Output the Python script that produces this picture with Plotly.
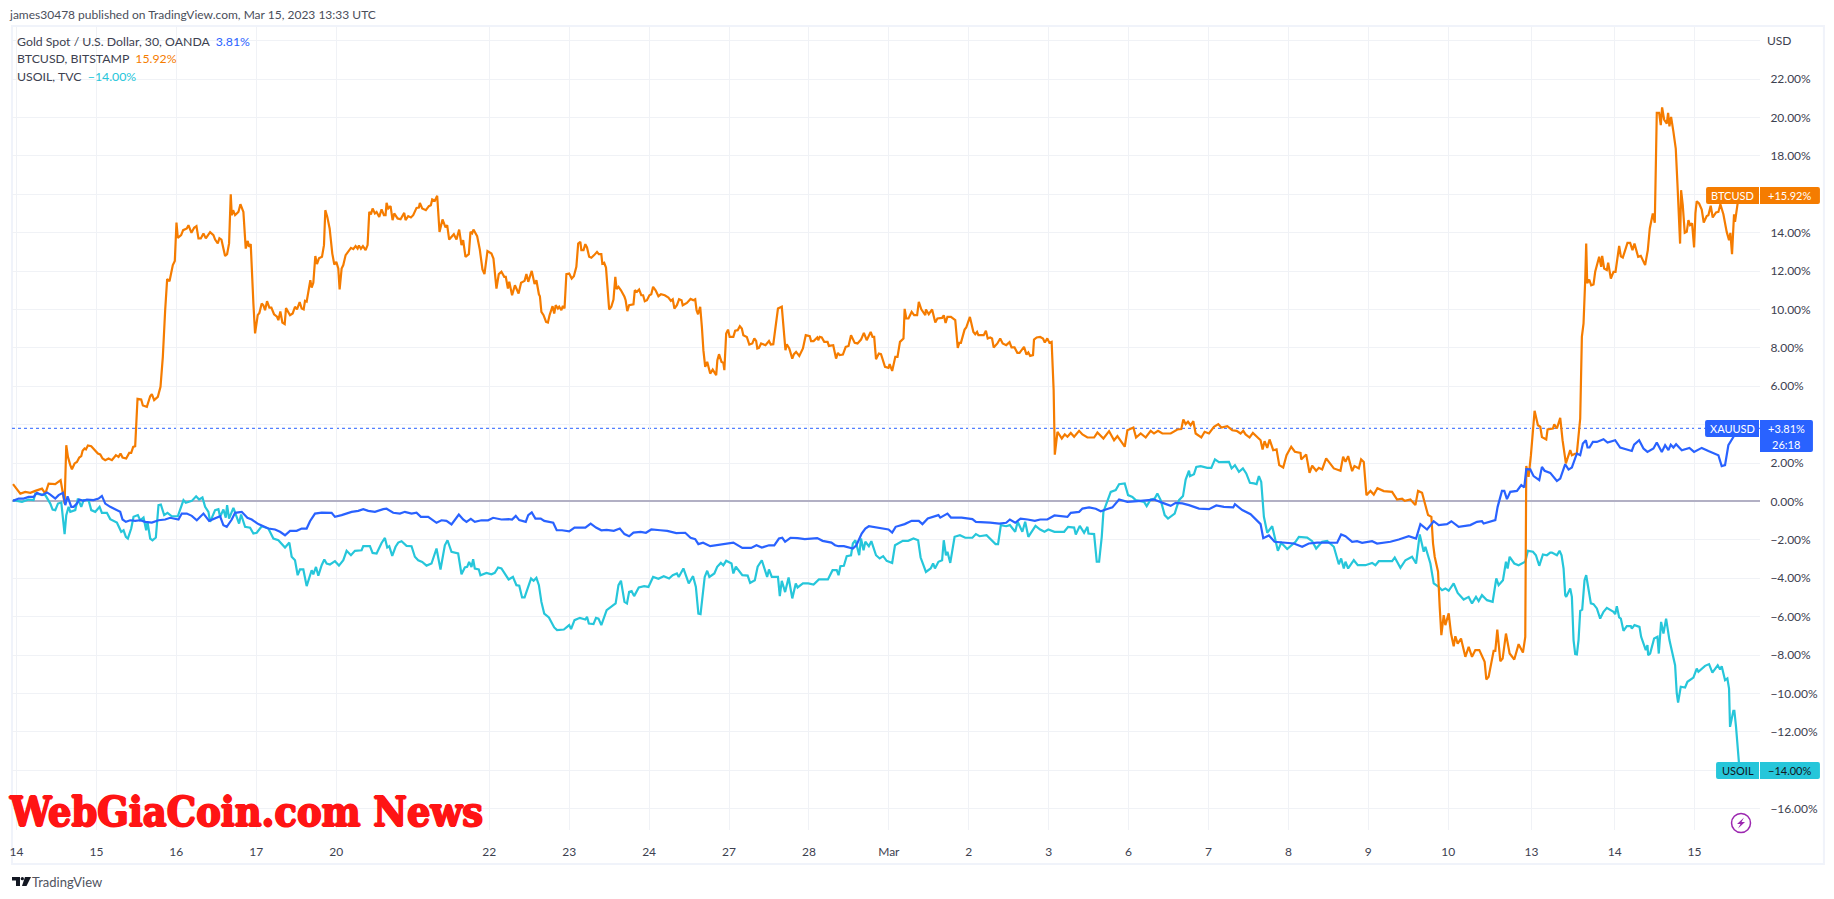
import plotly.graph_objects as go

# x = 30-minute bars since the Feb 14 session mark, y = % change
tick_bars = [0,48,96,144,192,284,332,380,428,476,524,572,620,668,716,764,812,860,910,960,1008]
tick_names = ["14","15","16","17","20","22","23","24","27","28","Mar","2","3","6","7","8","9","10","13","14","15"]
pct_ticks = list(range(-16, 25, 2))
hidden_pct_labels = [24, 16, 4, -14]

btc_feb_a = [(-2.1,.90),(-.7,.73),(2.3,.41),(5.3,.50),(8.3,.45),(11.3,.55),(15.3,.67),(17.3,.41),(19.3,.93),(23.3,.90),(26.5,1.11),(27.9,.41),(28.9,-.11),
(29.9,2.93),(30.9,2.32),(32.3,1.89),(33.3,1.68),(34.9,1.98),(36.3,2.06),(37.7,2.29),(38.9,2.36),(39.7,2.64),(40.9,2.76),(41.7,2.71),(42.9,2.92),(44.9,2.88),(47.3,2.67),(48.9,2.50),(50.3,2.45),(51.7,2.24),(53.3,2.15),(55.3,2.24),(57.3,2.15),(59.7,2.41),(61.3,2.32),(62.5,2.50),(63.7,2.29),(65.9,2.24),(67.7,2.53),(68.9,2.53),(70.1,2.84),(71.3,2.88),(72.7,5.35),(74.9,5.31),(75.9,5.00),(78.3,4.93),(80.3,5.48),(81.3,5.59),(82.7,5.28),(84.9,5.45),(86.5,5.97),(87.9,7.53),(89.3,9.96),(90.5,11.58),(91.9,11.47),(93.9,12.31),(95.1,12.53),(96.1,14.53),(96.9,13.73),(98.9,13.87),(100.1,14.13),(102.3,14.22),(103.3,14.39),(105.1,13.99),(106.7,14.25),(108.1,14.34),(109.3,13.70),(110.7,13.70),(112.3,13.96),(113.7,13.70),(116.3,14.03),(118.3,13.87),(119.3,13.64),(120.9,13.44),(121.9,13.71),(123.1,13.64),(125.3,12.78),(126.5,12.88),(127.7,13.44),(128.7,16.00),(129.3,14.91),(130.1,15.17),(131.3,14.91),(133.3,15.08),(134.5,15.48),(136.3,15.08),(137.7,13.17),(138.9,13.57),(139.7,13.26),(140.7,13.40),(142.3,10.31),(143.3,8.75),(144.9,9.70),(145.9,9.82),(147.3,10.31),(148.3,10.22),(149.3,9.96),(150.5,10.43),(151.9,10.10),(153.1,10.10),(154.7,9.75),(156.5,9.62),(157.3,9.44),(158.5,9.89),(159.7,9.32),(161.1,9.24),(161.9,10.07),(163.3,9.82),(164.3,9.70),(165.9,9.79),(167.3,10.14),(168.5,10.00),(170.1,10.38),(171.3,10.05),(172.5,10.00),(173.3,10.45),(174.3,10.41),(176.5,11.52),(177.3,11.14),(178.3,11.39),(179.5,12.78),(180.5,12.36),(181.7,12.66),(183.5,12.74),(184.7,13.35),(185.5,15.17),(186.7,14.82),(188.1,14.22),(189.7,12.91),(190.9,12.34),(192.1,12.48),(193.3,12.13),(194.1,11.04),(195.3,12.13),(196.3,12.31),(197.7,12.83),(199.3,13.00),(200.9,13.21),(202.3,13.14),(203.7,13.30),(204.9,13.17),(205.7,13.33),(206.9,13.16),(208.1,13.30),(209.7,13.09),(210.9,13.35),(211.9,15.08),(212.9,14.95),(213.9,15.26),(215.3,15.00),(216.3,15.08),(217.9,14.82),(219.3,15.21),(220.7,14.91),(221.7,14.91),(222.3,15.55),(223.3,15.26),(224.7,15.38),(225.9,14.65),(226.9,15.00),(228.9,14.74),(230.7,14.70),(232.9,15.03),(233.7,14.65),(235.3,14.86),(236.9,14.79),(238.3,14.91),(240.3,15.29),(241.7,15.31),(242.3,15.55),(243.7,15.26),(245.9,15.17),(247.7,15.38),(248.9,15.43),(249.7,15.73),(251.3,15.66),(252.7,15.92),(254.1,14.04),(255.9,14.69),(257.7,14.27),(258.7,14.39),(259.9,13.64),(262.7,13.92),(264.3,13.64),(265.9,14.16),(267.3,13.35),(268.3,13.61),(269.7,12.74),(271.7,12.88),(272.7,14.04),(273.7,13.96),(274.5,14.16),(276.7,13.82),(278.3,13.12),(279.9,12.08),(281.1,11.84),(282.9,13.04),(285.3,12.91),(286.5,12.65),(288.3,11.09),(289.7,11.84)]
btc_feb_b = [(291.3,11.96),(293,11.70),(293.9,11.70),(295.2,11.09),(296,11.44),(297.7,10.74),(299.4,11.26),(301.6,10.83),(303.1,11.39),(305.2,11.49),(306.3,11.84),(307.4,11.44),(309.5,12.01),(311.2,11.32),(312.3,11.52),(313.8,10.79),(314.4,10.69),(315.3,9.87),(316.6,9.70),(318.1,9.35),(319.2,9.32),(320.2,9.70),(322,10.17),(323,9.79),(323.9,10.22),(325.2,10.05),(326,10.14),(327.3,9.96),(328.2,10.19),(329.2,10.05),(330.3,11.84),(332,11.87),(333.5,11.61),(334.8,11.73),(336.3,12.22),(337.4,13.43),(338.7,13.52),(339.3,13.09),(340.6,13.09),(341.7,13.40),(342.7,13.23),(344,12.74),(345.3,12.69),(347,12.83),(348.7,13.00),(349.8,12.88),(351.3,12.88),(351.9,12.39),(353,12.43),(354.1,12.18),(356,10.00),(357.3,10.14),(358.6,10.52),(359.7,11.70),(360.5,11.06),(361.6,11.18),(363.1,11.00),(365.2,10.66),(365.9,10.48),(366.9,9.91),(368,10.22),(370.6,10.27),(371.4,11.00),(372.7,10.92),(374,11.04),(375.3,10.74),(376.4,10.74),(377.4,10.43),(378.7,10.48),(380.2,10.74),(381.3,10.79),(382.4,11.18),(383.9,11.00),(385.6,10.69),(387.1,10.79),(389.4,10.74),(391.6,10.62),(393.1,10.45),(394.2,10.53),(395.2,10.05),(396.7,10.22),(398,10.53),(399.5,10.48),(400.2,10.22),(402.7,10.34),(404.9,10.55),(406.6,10.48),(407.7,10.53),(408.5,9.96),(409.4,9.75),(410.7,10.14),(411.7,9.09),(412.6,7.88),(413.7,7.01),(414.9,7.27),(416.7,6.66),(418.2,6.87),(420.3,6.58),(421,7.36),(422,7.67),(423.5,7.27),(424.6,7.22),(425.2,6.84),(426.3,8.75),(427.4,8.95),(428.4,8.57),(430.6,8.57),(431.7,8.89),(433.2,8.92),(434.5,9.13),(435.7,9.01),(436.6,8.66),(438.7,8.57),(440.2,8.17),(442,8.23),(443.2,8.49),(444.3,8.36),(445,7.97),(446,8.00),(447.3,8.23),(449.9,8.14),(452,8.36),(453.1,8.17),(454.6,8.19),(457.4,10.05),(459.7,10.14),(461.9,7.88),(462.7,8.19),(464.2,7.97),(466,7.44),(467,7.67),(468.3,7.79),(470.2,7.58),(472.4,7.97),(474.1,8.66),(476.5,8.61),(477.3,8.35),(478.8,8.35),(481,8.54),(481.6,8.40),(482.5,8.57),(483.7,8.54),(485.2,8.31),(487.2,8.31),(488,8.10),(490.6,8.14),(492.3,7.44),(493.4,7.74),(494.5,7.62),(496.4,7.65),(498.1,8.05),(499.8,8.10),(501.3,8.66),(503.5,8.26),(505.2,8.23),(507.3,8.43),(509,8.78),(510.7,8.40),(513.1,8.83),(514.2,8.57),(515.2,8.57),(516.3,7.41),(518,7.70),(519.3,7.67),(521.7,7.01),(523.8,6.96),(524.5,7.15),(526,6.80),(527.9,7.53),(529.2,7.53),(530.7,8.31),(532.8,8.49),(533.5,10.03),(534.5,9.53),(535.8,9.53),(537.7,9.87),(539.2,9.70),(541,9.70),(542,10.40),(543.5,10.01),(545.9,9.70),(546.3,10.00),(548,9.75),(550,10.00),(551.9,9.32),(553.2,9.53),(556,9.56),(557,9.70),(558.1,9.30),(559.2,9.61),(561.3,9.61),(563.9,9.44),(565.4,8.00),(566.3,8.26),(567.3,8.26),(569.5,8.95),(570.5,9.06),(572.7,9.61),(574.8,8.83),(575.9,8.71),(577,8.83),(577.8,8.66),(581,8.66),(582.3,8.89),(583.4,8.49),(584.9,8.54),(586,8.49),(587,8.02),(589.2,8.23),(590.9,8.49),(592.4,8.23),(594.5,8.14),(596.5,8.30),(597.7,8.02),(599.5,8.02),(601.2,7.74),(602.5,7.74),(605.2,8.05),(606.7,7.65),(607.8,7.76),(608.9,7.58),(610.6,7.62),(611.2,8.43),(612.8,8.54),(614.9,8.57),(616.6,8.49),(617.7,8.28),(619.2,8.49),(620.5,8.26),(621.8,8.31),(623,5.80),(623.7,2.44)]
btc_mar = [(625.3,3.63),(627.9,3.28),(629.7,3.49),(631.3,3.37),(633.3,3.57),(635.3,3.37),(638.3,3.68),(640.3,3.49),(643.3,3.33),(647.3,3.33),(649.3,3.59),(652.9,3.28),(656.3,3.66),(659.3,3.19),(661.3,3.40),(665.7,2.85),(667.3,3.71),(670.9,3.85),(672.5,3.33),(675.3,3.54),(678.3,3.33),(681.3,3.68),(683.3,3.54),(685.7,3.68),(688.3,3.54),(693.3,3.54),(697.3,3.75),(699.7,3.77),(700.9,4.27),(702.3,4.03),(703.7,4.15),(705.3,3.97),(706.9,4.18),(708.3,3.54),(711.7,3.33),(713.7,3.63),(716.3,3.54),(719.3,3.89),(721.9,4.03),(723.7,3.85),(727.3,3.92),(730.3,3.71),(732.9,3.68),(735.3,3.54),(736.9,3.68),(738.3,3.49),(740.7,3.33),(742.7,3.57),(747.3,3.19),(748.5,2.71),(749.7,3.14),(751.3,2.79),(752.7,3.23),(754.9,2.67),(756.9,2.71),(758.5,1.89),(760.9,1.77),(762.9,2.41),(765.7,2.85),(767.9,2.59),(771.3,2.53),(771.7,2.19),(774.7,2.45),(776.7,1.49),(778.3,1.86),(780.7,1.60),(782.3,1.75),(784.3,1.67),(786.7,2.24),(791.3,1.72),(795.3,1.60),(796.9,2.33),(798.3,2.06),(799.9,2.36),(802.3,1.58),(803.7,1.84),(806.3,1.72),(807.7,2.19),(809.3,2.06),(810.9,.33),(813.3,.55),(815.3,.36),(817.5,.69),(821.3,.54),(826.3,.50),(829.3,.10),(832.3,.14),(833.9,.03),(837.3,.10),(840.3,-.19),(841.9,.55),(844.3,.45),(847.9,-.71),(849.9,-.80),(850.9,-2.19),(851.9,-2.88),(853.9,-3.66),(854.9,-5.49),(855.9,-6.96),(857.3,-5.92),(858.3,-6.44),(860.3,-5.83),(861.7,-6.88),(863.3,-7.54),(864.3,-7.02),(865.7,-7.40),(867.7,-7.14),(870.3,-8.09),(872.3,-7.57),(874.3,-8.09),(876.3,-7.74),(878.7,-7.74),(881.9,-8.35),(882.9,-9.27),(884.3,-9.13),(887.3,-7.78),(888.3,-7.78),(889.5,-6.67),(891.3,-8.32),(892.7,-8.18),(894.7,-6.88),(896.9,-7.92),(899.7,-8.23),(902.3,-7.43),(904.9,-7.87),(906.3,-7.05),(906.7,-3.40),
(906.9,1.85),(908.3,1.28),(909.7,2.41),(911.9,4.72),(913.9,3.97),(915.3,3.89),(916.3,3.36),(918.9,3.23),(919.7,3.75),(922.9,3.80),(923.7,4.01),(925.3,3.80),(927.3,4.35),(928.7,3.19),(930.7,1.98),(933.3,2.67),(934.3,2.41),(937.3,2.53),(939.3,4.32),(940.3,8.57),(941.3,9.27),(942.3,11.52),(942.9,13.43),(943.5,11.37),(944.7,11.56),(945.9,11.26),(947.3,11.30),(948.3,11.96),(950.7,12.74),(951.9,12.22),(952.5,12.79),(953.7,12.13),(955.3,12.05),(956.1,12.43),(957.7,11.61),(959.3,11.96),(960.5,11.96),(962.7,13.31),(963.7,12.77),(964.9,12.70),(967.7,13.47),(969.3,13.47),(970.7,13.09),(971.9,13.43),(974.1,12.74),(975.7,12.79),(978.3,12.31),(979.9,13.09),(981.1,14.22),(982.9,15.00),(984.1,14.51),(984.9,18.30),(985.3,20.24),(986.7,20.24),(987.7,19.60),(988.5,20.52),(989.7,19.89),(991.3,19.68),(992.1,20.24),(992.9,19.54),(993.9,20.03),(995.3,19.25),(996.7,18.38),(997.7,16.56),(998.5,14.82),(999.3,13.43),(999.9,16.21),(1000.9,15.43),(1002.1,13.99),(1003.3,14.04),(1004.3,14.65),(1005.3,14.39),(1006.5,14.48),(1007.7,13.23),(1008.5,15.00),(1009.3,15.64),(1010.7,15.52),(1012.3,15.20),(1013.5,14.53),(1015.3,14.86),(1016.3,14.91),(1017.7,15.40),(1018.9,14.79),(1020.9,15.05),(1022.3,15.08),(1023.5,15.48),(1025.3,14.96),(1027.3,14.04),(1028.7,13.61),(1029.5,13.99),(1030.5,12.88),(1031.7,14.96),(1032.3,14.56),(1033.9,15.43),(1034.5,15.92)]

gold_feb_a = [(-2.1,.03),(1.3,.15),(4.3,.15),(7.3,.24),(10.3,.24),(12.3,.45),(15.3,.33),(18.3,.47),(20.3,.36),(23.3,.15),(25.3,.33),(27.9,.45),(29.3,-.19),(30.7,.27),(32.9,-.28),(34.3,-.28),(36.3,-.11),(37.7,.10),(40.3,.03),(42.3,.10),(46.3,.07),(49.3,.15),(51.3,.29),(53.3,-.11),(56.3,-.28),(59.3,-.42),(62.3,-.54),(63.7,-.94),(65.7,-1.06),(68.3,-.98),(71.3,-1.01),(74.3,-.98),(77.3,-1.06),(81.3,-1.10),(85.3,-.98),(89.3,-.94),(92.3,-.85),(97.3,-.94),(99.3,-.63),(102.3,-.63),(105.3,-.75),(108.3,-.98),(112.3,-.63),(115.7,-1.01),(119.3,-.89),(122.3,-.77),(124.3,-1.24),(126.3,-1.32),(129.3,-.94),(131.3,-.59),(135.3,-.54),(138.7,-.85),(141.3,-.94),(145.3,-1.18),(148.3,-1.29),(151.3,-1.41),(155.3,-1.46),(158.3,-1.58),(161.3,-1.76),(164.3,-1.53),(168.3,-1.53),(171.3,-1.41),(174.3,-1.41),(176.3,-1.03),(179.3,-.63),(183.3,-.58),(189.3,-.59),(191.3,-.80),(195.3,-.71),(199.3,-.58),(201.3,-.54),(205.3,-.49),(208.3,-.40),(211.3,-.49),(215.3,-.54),(220.3,-.40),(222.3,-.38),(226.3,-.59),(230.3,-.63),(233.3,-.54),(237.3,-.63),(240.3,-.58),(242.9,-.80),(247.3,-.80),(252.3,-1.11),(255.3,-.98),(258.3,-1.01),(261.3,-1.20),(265.7,-.68),(268.3,-.94),(270.3,-1.06),(272.9,-.91),(275.3,-1.06),(279.3,-.98),(283.3,-.98),(286.3,-.85)]
gold_feb_b = [(291.3,-.94),(295.6,-.92),(297.7,-.94),(299.9,-.75),(302,-.97),(305.9,-1.06),(307.4,-.71),(309.5,-.57),(311.7,-.89),(314.9,-.89),(317,-1.01),(322.4,-1.11),(324.5,-1.50),(327.7,-1.50),(332,-1.56),(335.2,-1.36),(338.4,-1.36),(341.7,-1.36),(344.9,-1.15),(348.1,-1.36),(351.3,-1.50),(354.5,-1.48),(358.8,-1.53),(362.4,-1.41),(365.2,-1.70),(368,-1.81),(370.6,-1.62),(374.9,-1.58),(378.1,-1.63),(381.3,-1.46),(386.7,-1.50),(390.9,-1.53),(396.3,-1.65),(401.7,-1.63),(404.9,-1.89),(407.7,-1.96),(409.6,-2.22),(412.4,-2.15),(416.7,-2.33),(420.9,-2.28),(426.3,-2.22),(430.6,-2.14),(436,-2.42),(441.3,-2.42),(444.5,-2.28),(447.7,-2.40),(452,-2.28),(455.2,-2.29),(458,-1.93),(460,-1.89),(461.7,-2.10),(464.9,-1.89),(469.2,-1.91),(473.5,-1.96),(481,-1.91),(484.2,-2.05),(489.5,-2.14),(491.7,-2.28),(493.8,-2.33),(497,-2.33),(502.4,-2.45),(504.5,-2.28),(507.7,-1.67),(509.9,-1.41),(512,-1.29),(516.3,-1.36),(523.8,-1.46),(526,-1.62),(528.1,-1.32),(533.5,-1.18),(537.7,-1.01),(542,-1.01),(544.2,-1.18),(547.4,-.89),(550.6,-.80),(553.8,-.71),(554.9,-.84),(559.2,-.63),(561.3,-.84),(567.7,-.84),(574.2,-.92),(576.3,-1.06),(584.9,-1.10),(590.3,-1.15),(594.5,-1.11),(596.7,-.94),(599.9,-1.11),(603.1,-.89),(607.4,-.94),(611.7,-1.01),(614.9,-.94),(619.2,-.94),(623.5,-.73),(626.9,-.77)]
gold_mar = [(631.3,-.80),(633.3,-.59),(638.3,-.54),(640.3,-.37),(644.3,-.31),(648.3,-.38),(651.3,-.51),(654.3,-.42),(658.3,-.31),(662.3,.10),(667.3,-.02),(673.3,.02),(678.3,.07),(683.3,.10),(689.3,-.10),(693.3,-.23),(696.3,-.07),(700.3,-.10),(704.3,-.19),(710.3,-.37),(716.3,-.40),(720.7,-.21),(725.3,-.28),(730.9,-.31),(731.9,-.14),(736.3,-.45),(741.3,-.66),(743.7,-.89),(747.3,-1.18),(748.9,-1.91),(752.3,-1.77),(755.7,-2.10),(761.3,-2.14),(767.3,-2.19),(772.3,-2.36),(776.3,-2.19),(781.3,-2.14),(787.3,-2.14),(793.3,-2.15),(795.7,-1.72),(798.3,-1.81),(802.3,-2.10),(805.3,-2.07),(808.3,-2.15),(814.3,-2.07),(817.3,-2.19),(822.3,-2.12),(825.3,-2.10),(830.3,-1.98),(836.3,-1.81),(840.7,-1.93),(843.3,-1.18),(847.3,-1.46),(851.3,-1.03),(854.3,-1.23),(859.3,-1.18),(861.9,-1.03),(866.3,-1.32),(873.3,-1.23),(877.3,-1.06),(880.3,-1.03),(881.3,-1.15),(888.3,-.97),(889.7,-.28),(892.3,.55),(893.7,.55),(895.3,.12),(897.3,.50),(901.3,.55),(903.9,.85),(905.7,.73),(906.9,1.68),(909.3,1.67),(911.3,1.32),(914.7,1.11),(916.3,1.80),(917.9,1.60),(921.3,1.49),(925.3,1.07),(927.3,1.19),(930.3,1.94),(932.3,1.66),(934.3,1.77),(937.3,2.50),(939.3,2.41),(940.9,3.02),(942.7,3.19),(943.7,2.81),(944.9,2.81),(946.9,3.10),(949.3,3.10),(953.3,3.24),(955.7,3.07),(960.3,3.19),(963.3,2.81),(967.3,2.72),(970.3,2.63),(971.7,2.96),(974.7,3.19),(977.3,2.76),(979.7,2.58),(983.3,2.76),(985.3,3.07),(988.3,2.58),(990.3,2.93),(992.3,2.67),(993.7,2.96),(995.3,2.81),(996.9,2.98),(1000.3,2.67),(1004.9,2.79),(1007.7,2.58),(1012.3,2.79),(1016.3,2.63),(1020.3,2.50),(1022.3,2.41),(1024.3,1.84),(1026.3,1.89),(1028.3,2.93),(1029.9,3.14),(1031.3,3.36),(1033.9,3.81)]

oil_feb_a = [(-2.1,.07),(3.3,-.02),(7.3,.10),(10.3,.07),(11.3,.41),(17.3,.33),(20.3,-.11),(21.7,-.42),(23.3,-.45),(24.9,-.11),(26.9,-.05),(27.9,-.80),(28.9,-1.70),(29.9,-.71),(31.3,-.28),(32.3,-.54),(35.3,-.45),(36.9,.15),(38.9,-.28),(40.3,.07),(43.3,.07),(44.9,-.45),(47.3,-.54),(49.9,-.28),(51.3,-.59),(54.3,-.59),(56.3,-.92),(60.3,-1.10),(62.9,-1.58),(64.3,-1.50),(65.7,-1.84),(66.9,-1.93),(68.9,-1.41),(70.3,-.80),(72.9,-.71),(74.3,-.98),(76.3,-.84),(77.9,-1.50),(78.7,-1.06),(80.3,-1.93),(81.7,-2.02),(83.7,-1.88),(85.3,-.19),(86.7,-.16),(88.7,-.71),(90.7,-.59),(93.3,-.77),(96.9,-.77),(98.3,-.37),(100.3,.07),(101.7,-.07),(105.3,.03),(107.9,.27),(109.7,.10),(111.7,.21),(113.3,-.28),(115.3,-.54),(116.3,-1.06),(119.3,-.45),(121.3,-.40),(122.3,-.80),(124.3,-.42),(125.7,-.84),(126.5,-.19),(127.7,-.89),(130.3,-.33),(133.7,-1.15),(134.9,-.68),(137.3,-1.32),(140.3,-1.37),(142.3,-1.67),(144.3,-1.63),(147.3,-1.29),(151.3,-1.41),(154.3,-1.93),(157.3,-2.02),(161.3,-2.40),(163.9,-2.14),(165.3,-2.88),(167.3,-3.06),(168.9,-3.84),(170.3,-3.54),(172.3,-3.54),(174.3,-4.41),(177.3,-3.58),(178.3,-3.80),(179.9,-3.41),(181.3,-3.87),(183.3,-3.32),(184.9,-3.02),(186.3,-3.23),(188.3,-3.28),(191.3,-3.11),(193.7,-3.34),(196.3,-3.06),(198.3,-2.57),(200.9,-2.80),(203.3,-2.57),(207.3,-2.54),(208.3,-2.33),(212.3,-2.33),(213.9,-2.68),(216.3,-2.71),(219.3,-2.16),(221.3,-1.90),(222.7,-2.40),(223.9,-2.33),(225.7,-2.83),(227.7,-2.36),(229.3,-2.14),(231.3,-2.07),(234.3,-2.31),(237.3,-2.33),(239.3,-2.88),(241.3,-3.06),(243.7,-3.15),(246.3,-3.34),(249.3,-3.23),(252.3,-2.45),(254.7,-3.54),(257.3,-2.28),(258.9,-2.02),(261.3,-2.62),(265.3,-2.71),(267.3,-3.79),(269.3,-3.44),(270.7,-3.41),(271.9,-3.15),(273.3,-3.41),(274.3,-3.01),(275.3,-3.49),(277.7,-3.54),(278.7,-3.84),(282.3,-3.72),(285.3,-3.79),(287.3,-3.72),(289.3,-3.44),(291.3,-3.49)]
oil_feb_b = [(293.9,-3.84),(295.6,-4.06),(298.2,-3.93),(300.3,-4.36),(302,-4.39),(303.7,-5.00),(305.2,-5.00),(307.4,-4.48),(309.1,-4.01),(310.6,-4.13),(312.3,-3.98),(313.8,-4.36),(315.3,-5.23),(317,-5.84),(319.8,-6.04),(323,-6.56),(324.7,-6.70),(328.8,-6.67),(332,-6.44),(333.1,-6.65),(335.2,-6.18),(338.4,-6.06),(341.7,-6.15),(342.7,-6.01),(343.8,-6.36),(346.6,-6.39),(348.1,-6.06),(349.6,-6.10),(351.3,-6.44),(354.5,-5.66),(357.7,-5.45),(359.9,-5.31),(361.6,-4.36),(363.1,-4.13),(365.2,-5.23),(366.7,-5.31),(368,-4.71),(369.5,-4.67),(371,-4.93),(373.8,-4.48),(377,-4.41),(379.6,-4.45),(382.4,-3.93),(385.6,-4.03),(388.8,-3.89),(392,-4.01),(394.2,-3.84),(396.7,-3.75),(397.8,-3.93),(400.6,-3.49),(403.8,-4.27),(406.4,-3.89),(408.1,-4.45),(409.6,-5.84),(410.9,-5.87),(413.4,-3.93),(414.9,-3.61),(416.2,-3.93),(419.2,-3.75),(420.9,-3.40),(423.1,-3.20),(424.6,-3.32),(426.3,-3.09),(429.5,-3.23),(430.6,-3.75),(432.1,-3.40),(436,-3.84),(439.2,-3.86),(440.7,-4.24),(443.5,-4.10),(445.2,-3.40),(447.7,-3.06),(450.9,-3.93),(452,-3.54),(453.7,-3.93),(457.4,-3.93),(458.5,-4.93),(459.7,-4.13),(461.7,-4.72),(463.8,-3.96),(466,-5.05),(468.1,-4.27),(469.2,-4.48),(472.4,-4.27),(475.6,-4.27),(478.8,-4.33),(482,-4.06),(487.4,-4.06),(490.2,-3.58),(492.7,-3.58),(493.8,-3.84),(494.9,-3.37),(497,-3.35),(498.7,-2.85),(501.3,-2.80),(502.4,-2.19),(503.9,-2.02),(506.2,-2.80),(507.3,-1.93),(508.8,-2.54),(509.9,-2.10),(512,-2.33),(513.5,-2.07),(516.3,-2.80),(518.5,-2.97),(520.6,-2.85),(522.7,-3.09),(526,-3.20),(527.7,-2.28),(532.4,-2.05),(535.6,-2.05),(538.8,-1.93),(541.6,-2.02),(543.1,-2.92),(546.3,-3.67),(549.1,-3.49),(550.6,-3.23),(551.7,-3.49),(553.8,-3.14),(556,-3.06),(557,-2.02),(558.3,-2.80),(559.2,-2.62),(560.9,-3.20),(563.5,-1.84),(566.7,-1.76),(569.9,-1.89),(574.2,-1.89),(576.3,-1.70),(578.5,-1.81),(582.7,-1.76),(588.1,-2.22),(589.6,-2.22),(591.3,-1.23),(594.5,-1.29),(596.7,-1.23),(599.9,-1.58),(601.4,-1.06),(604.2,-1.58),(605.9,-1.06),(607.8,-1.84),(612.1,-1.27),(614.9,-1.46),(617.5,-1.58),(619.8,-1.46),(623.5,-1.58)]
oil_mar = [(629.3,-1.58),(631.7,-1.32),(635.3,-1.36),(636.3,-1.72),(638.7,-1.27),(641.3,-1.63),(643.3,-1.32),(643.9,-1.67),(647.3,-1.70),(648.9,-3.14),(650.3,-3.14),(651.9,-1.84),(652.9,-.54),(654.9,-.11),(657.3,.50),(660.3,.59),(662.3,.90),(665.7,.94),(667.7,.33),(670.3,.24),(672.3,.07),(677.3,-.02),(678.9,-.24),(681.3,.10),(683.7,.15),(685.3,.41),(687.3,.07),(689.7,-.71),(691.7,-.89),(695.7,-.63),(698.3,.07),(700.7,.28),(702.3,1.14),(704.3,1.60),(704.9,1.32),(707.3,1.42),(708.7,1.80),(711.3,1.84),(715.3,1.75),(717.7,1.75),(719.9,2.19),(722.3,2.05),(728.3,2.06),(729.9,1.72),(731.9,1.89),(734.3,1.54),(736.7,1.72),(738.7,1.46),(740.9,.97),(743.3,.94),(744.9,.90),(746.3,1.32),(747.7,1.02),(749.3,-.80),(751.3,-1.63),(754.3,-1.29),(757.7,-2.57),(759.7,-2.15),(763.3,-2.48),(768.3,-2.10),(770.3,-1.84),(775.3,-1.88),(778.3,-2.07),(780.7,-2.45),(784.3,-2.10),(787.3,-2.05),(791.3,-2.36),(794.3,-3.27),(795.7,-2.97),(797.3,-3.49),(798.3,-3.14),(799.9,-3.49),(803.3,-3.06),(805.7,-3.32),(810.3,-3.32),(814.3,-3.20),(816.3,-3.32),(818.3,-3.11),(826.3,-3.11),(827.9,-2.92),(831.3,-3.46),(834.3,-3.06),(838.3,-2.88),(840.7,-3.23),(842.9,-1.72),(845.3,-2.62),(846.3,-2.36),(849.3,-3.23),(851.3,-4.27),(854.3,-4.45),(856.3,-4.62),(858.3,-4.53),(860.3,-4.65),(863.3,-4.27),(865.7,-4.76),(869.3,-5.11),(872.3,-4.97),(874.3,-5.31),(876.7,-4.97),(878.3,-5.19),(880.3,-4.88),(883.3,-5.14),(886.7,-5.23),(888.9,-4.01),(890.3,-4.36),(892.9,-4.10),(894.7,-3.14),(895.7,-3.49),(896.9,-2.88),(899.7,-3.23),(902.3,-3.32),(906.3,-3.14),(907.9,-2.57),(910.9,-2.62),(912.7,-2.80),(914.7,-3.35),(916.9,-2.76),(919.3,-2.80),(921.3,-2.66),(922.3,-2.66),(925.3,-2.80),(926.9,-2.57),(928.1,-2.80),(929.3,-3.49),(930.3,-4.88),(930.9,-4.97),(933.3,-4.53),(934.3,-4.97),(935.3,-7.22),(936.3,-7.95),(937.3,-7.97),(938.3,-7.22),(939.3,-5.70),(940.5,-5.63),(941.9,-4.10),(942.9,-3.84),(944.3,-4.62),(945.7,-5.31),(947.3,-5.35),(949.3,-5.57),(951.3,-6.10),(953.3,-5.75),(955.3,-5.54),(959.3,-5.75),(960.3,-5.87),(961.3,-5.45),(962.7,-6.04),(963.7,-6.10),(965.3,-6.74),(967.3,-6.49),(969.7,-6.49),(970.3,-6.62),(971.9,-6.44),(974.9,-6.53),(975.9,-7.05),(977.3,-7.40),(978.7,-7.74),(979.7,-7.48),(980.1,-8.00),(981.3,-7.92),(983.7,-7.14),(985.7,-7.05),(986.5,-7.92),(987.9,-6.27),(989.3,-6.88),(990.9,-6.10),(992.9,-7.22),(996.3,-8.53),(997.3,-10.00),(998.1,-10.47),(999.7,-9.65),(1002.3,-9.69),(1003.7,-9.39),(1007.3,-9.17),(1009.3,-8.70),(1010.3,-8.87),(1014.3,-8.56),(1016.7,-8.47),(1018.7,-8.91),(1021.9,-8.53),(1023.3,-8.75),(1024.3,-8.58),(1026.3,-9.31),(1027.7,-9.22),(1028.7,-9.74),(1029.3,-11.74),(1031.3,-10.90),(1031.9,-10.90),(1032.9,-11.74),(1034.7,-13.65),(1035.1,-14.00)]

GOLD, BTC, OIL = "#2962FF", "#F57C00", "#26C6DA"
GRID = "#F0F2F6"
FONT = "Lato, 'Noto Sans', sans-serif"
TXT = "#3d4150"
W, H = 1834, 899
L, R, T, B = 10, 1760, 27, 830
X_RANGE = [-2.7, 1047.3]
Y_RANGE = [-17.11, 24.71]

def X(p): return (p - L) / (R - L)
def Y(p): return 1 - (p - T) / (B - T)

def fmt(v):
    return ("\u2212" if v < 0 else "") + f"{abs(v):.2f}%"

fig = go.Figure()
for pts, col, name in [(oil_feb_a + oil_feb_b + oil_mar, OIL, "USOIL"),
                       (btc_feb_a + btc_feb_b + btc_mar, BTC, "BTCUSD"),
                       (gold_feb_a + gold_feb_b + gold_mar, GOLD, "XAUUSD")]:
    fig.add_trace(go.Scatter(x=[p[0] for p in pts], y=[p[1] for p in pts], mode="lines",
                             name=name, line=dict(color=col, width=2.2), hoverinfo="skip"))

def rbox(x0, y0, x1, y1, col, rl=2, rr=2):
    d = (f"M {X(x0+rl)} {Y(y0)} L {X(x1-rr)} {Y(y0)} Q {X(x1)} {Y(y0)} {X(x1)} {Y(y0+rr)} "
         f"L {X(x1)} {Y(y1-rr)} Q {X(x1)} {Y(y1)} {X(x1-rr)} {Y(y1)} L {X(x0+rl)} {Y(y1)} "
         f"Q {X(x0)} {Y(y1)} {X(x0)} {Y(y1-rl)} L {X(x0)} {Y(y0+rl)} Q {X(x0)} {Y(y0)} {X(x0+rl)} {Y(y0)} Z")
    return dict(type="path", xref="paper", yref="paper", path=d, fillcolor=col, line=dict(width=0), layer="above")

def poly(pts, col):
    d = "M " + " L ".join(f"{X(a)} {Y(b)}" for a, b in pts) + " Z"
    return dict(type="path", xref="paper", yref="paper", path=d, fillcolor=col, line=dict(width=0), layer="above")

last_gold = gold_mar[-1][1]
shapes = [
    dict(type="line", xref="x", yref="y", x0=X_RANGE[0], x1=X_RANGE[1], y0=last_gold, y1=last_gold, layer="below", line=dict(color=GOLD, width=1, dash="dot")),
    dict(type="rect", xref="paper", yref="paper", x0=X(10), x1=X(1824), y0=Y(26), y1=Y(864), line=dict(color="#F0F3FA", width=2), layer="below"),
    rbox(1706, 187, 1759, 204, BTC, 2, 0), rbox(1760, 187, 1820, 204, BTC, 0, 2),
    rbox(1705, 420, 1759, 437, GOLD, 2, 0), rbox(1760, 420, 1813, 452, GOLD, 0, 2),
    rbox(1716, 762, 1759, 779, OIL, 2, 0), rbox(1760, 762, 1820, 779, OIL, 0, 2),
    dict(type="circle", xref="paper", yref="paper", x0=X(1731.5), x1=X(1750.5), y0=Y(813.5), y1=Y(832.5), line=dict(color="#9C27B0", width=1.5), fillcolor="white", layer="above"),
    poly([(1744, 817.5), (1737, 824), (1740.5, 824), (1738, 828.5), (1745, 822), (1741.5, 822)], "#9C27B0"),
    poly([(10, 877), (18, 877), (18, 886), (14, 886), (14, 880.5), (10, 880.5)], "#131722"),
    poly([(23, 877), (29, 877), (24.5, 886), (20, 886)], "#131722"),
    dict(type="circle", xref="paper", yref="paper", x0=X(18.7), x1=X(22), y0=Y(877), y1=Y(880.3), line=dict(width=0), fillcolor="#131722", layer="above"),
]

def note(x, y, text, size=12, color=TXT, xanchor="left", family=FONT, **kw):
    return dict(xref="paper", yref="paper", x=X(x), y=Y(y), text=text, showarrow=False, xanchor=xanchor,
                yanchor="middle", align="left", font=dict(family=family, size=size, color=color, **kw),
                borderpad=0, borderwidth=0)

def span(t, c): return f'<span style="color:{c}">{t}</span>'

btc_last = btc_mar[-1][1]
oil_last = oil_mar[-1][1]
annotations = [
    note(7, 14.5, "james30478 published on TradingView.com, Mar 15, 2023 13:33 UTC", 12, "#4a4e5a"),
    note(15, 41.5, "Gold Spot / U.S. Dollar, 30, OANDA  " + span(f"{last_gold:.2f}%", GOLD), 12.3),
    note(15, 58.5, "BTCUSD, BITSTAMP  " + span(f"{btc_last:.2f}%", BTC), 12.3),
    note(15, 76, "USOIL, TVC  " + span(fmt(oil_last), OIL), 12.3),
    note(1767, 41, "USD", 12, TXT),
    note(1732.5, 195.5, "BTCUSD", 11, "white", "center"),
    note(1790, 195.5, "+" + fmt(btc_last), 11, "white", "center"),
    note(1732, 428.5, "XAUUSD", 11, "white", "center"),
    note(1786.5, 428.5, "+" + fmt(last_gold), 11, "white", "center"),
    note(1786.5, 444, "26:18", 11, "white", "center"),
    note(1737.5, 770.5, "USOIL", 11, "#131722", "center"),
    note(1790, 770.5, fmt(oil_last), 11, "#131722", "center"),
    note(30, 881.5, "TradingView", 13, "#50535E"),
    note(7, 812, "<b>WebGiaCoin.com News</b>", 41, "#FF1414", family="'DejaVu Serif Condensed', 'DejaVu Serif', serif",
         shadow="1px 0 0 #FF1414, -1px 0 0 #FF1414, 0 1px 0 #FF1414, 0 -1px 0 #FF1414"),
]

fig.update_layout(
    width=W, height=H, autosize=False, showlegend=False,
    paper_bgcolor="white", plot_bgcolor="white",
    margin=dict(l=L, r=W - R, t=T, b=H - B, pad=0),
    shapes=shapes, annotations=annotations,
    font=dict(family=FONT, size=12, color=TXT),
    xaxis=dict(range=X_RANGE, tickvals=tick_bars, ticktext=tick_names, showgrid=True, gridcolor=GRID, gridwidth=1,
               zeroline=False, showline=False, ticks="outside", ticklen=11, tickcolor="rgba(0,0,0,0)",
               tickfont=dict(family=FONT, size=12, color=TXT), tickangle=0),
    yaxis=dict(range=Y_RANGE, side="right", tickvals=pct_ticks,
               ticktext=["" if v in hidden_pct_labels else fmt(v) for v in pct_ticks],
               showgrid=True, gridcolor=GRID, gridwidth=1,
               zeroline=True, zerolinecolor="#B2B0C4", zerolinewidth=1.5, showline=False,
               ticks="outside", ticklen=7, tickcolor="rgba(0,0,0,0)",
               tickfont=dict(family=FONT, size=12, color=TXT)),
)

fig.write_html("out.html", config=dict(displayModeBar=False),
               post_script="document.body.style.margin='0';document.body.style.overflow='hidden';")
